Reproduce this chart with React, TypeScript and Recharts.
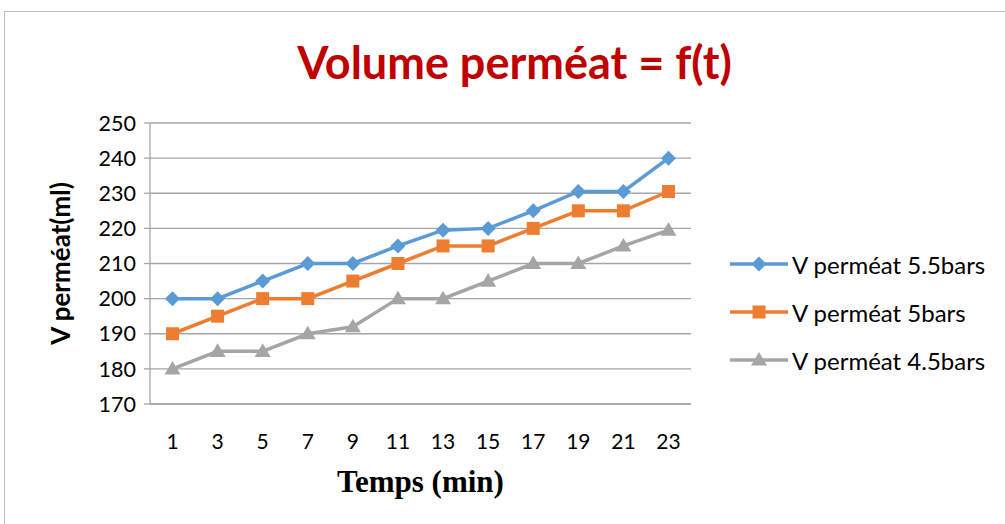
import React from "react";
import { LineChart, Line, XAxis, YAxis, CartesianGrid } from "recharts";

// Temps (min)
const times = [1, 3, 5, 7, 9, 11, 13, 15, 17, 19, 21, 23];
// V perméat (ml) at each pressure
const v55 = [200, 200, 205, 210, 210, 215, 219.5, 220, 225, 230.5, 230.5, 240];
const v5 = [190, 195, 200, 200, 205, 210, 215, 215, 220, 225, 225, 230.5];
const v45 = [180, 185, 185, 190, 192, 200, 200, 205, 210, 210, 215, 219.5];
const yTicks = [170, 180, 190, 200, 210, 220, 230, 240, 250];

const seriesNames = ["V perméat 5.5bars", "V perméat 5bars", "V perméat 4.5bars"];
const seriesColors = ["#5B9BD5", "#ED7D31", "#A5A5A5"];
const seriesShapes = ["diamond", "square", "triangle"];

const data = times.map((t, i) => ({ t, s55: v55[i], s5: v5[i], s45: v45[i] }));

const FONT = "Lato, 'Open Sans', sans-serif";

const Marker = ({ cx, cy, shape, color }: any) => {
  if (cx == null || cy == null) return null;
  if (shape === "diamond") {
    const r = 7.5;
    return <path d={`M${cx},${cy - r}L${cx + r},${cy}L${cx},${cy + r}L${cx - r},${cy}Z`} fill={color} />;
  }
  if (shape === "square") {
    const r = 6.5;
    return <rect x={cx - r} y={cy - r} width={r * 2} height={r * 2} fill={color} />;
  }
  const r = 8;
  return <path d={`M${cx},${cy - r}L${cx + r},${cy + r * 0.7}L${cx - r},${cy + r * 0.7}Z`} fill={color} />;
};

const ChartLegend = () => (
  <div
    style={{
      position: "absolute",
      left: 728,
      top: 240,
      fontFamily: FONT,
      fontSize: 24,
      color: "#000",
      whiteSpace: "nowrap",
    }}
  >
    {seriesNames.map((n, i) => (
      <div key={n} style={{ display: "flex", alignItems: "center", height: 48 }}>
        <svg width={62} height={20}>
          <line x1={2} y1={10} x2={60} y2={10} stroke={seriesColors[i]} strokeWidth={3.5} />
          <Marker cx={31} cy={10} shape={seriesShapes[i]} color={seriesColors[i]} />
        </svg>
        <span style={{ marginLeft: 2 }}>{n}</span>
      </div>
    ))}
  </div>
);

export default function App() {
  const keys = ["s55", "s5", "s45"];
  return (
    <div style={{ position: "fixed", left: 0, top: 0, width: 1005, height: 524, background: "#fff", overflow: "hidden" }}>
      <div
        style={{
          position: "absolute",
          left: 4,
          top: 11,
          width: 1010,
          height: 520,
          border: "1px solid #BFBFBF",
        }}
      />
      <div
        style={{
          position: "absolute",
          left: 0,
          width: 1005,
          top: 32,
          textAlign: "center",
          fontFamily: FONT,
          fontWeight: 700,
          fontSize: 45,
          color: "#C00000",
          lineHeight: "60px",
          paddingLeft: 24,
          boxSizing: "border-box",
        }}
      >
        Volume perméat = f(t)
      </div>
      <LineChart
        width={1005}
        height={524}
        data={data}
        margin={{ top: 123, right: 314, bottom: 40, left: 0 }}
        style={{ position: "absolute", left: 0, top: 0 }}
      >
        <CartesianGrid vertical={false} stroke="#A6A6A6" strokeWidth={1.3} />
        <XAxis
          dataKey="t"
          interval={0}
          padding={{ left: 22.5, right: 22.5 }}
          axisLine={{ stroke: "#A6A6A6", strokeWidth: 1.3 }}
          tickLine={false}
          tickMargin={24}
          height={80}
          tick={{ fill: "#000", fontSize: 21, fontFamily: FONT }}
          label={{
            value: "Temps (min)",
            position: "insideBottom",
            offset: -8,
            style: { fontFamily: "'Liberation Serif', serif", fontWeight: 700, fontSize: 31, fill: "#000" },
          }}
        />
        <YAxis
          width={150}
          domain={[170, 250]}
          ticks={yTicks}
          interval={0}
          axisLine={{ stroke: "#A6A6A6", strokeWidth: 1.3 }}
          tickLine={{ stroke: "#A6A6A6", strokeWidth: 1.3 }}
          tickSize={6}
          tickMargin={8}
          tick={{ fill: "#000", fontSize: 21.5, fontFamily: FONT }}
          label={{
            value: "V perméat(ml)",
            angle: -90,
            position: "insideLeft",
            offset: 61,
            style: { fontFamily: FONT, fontWeight: 700, fontSize: 26, fill: "#000", textAnchor: "middle" },
          }}
        />
        {keys.map((k, i) => (
          <Line
            key={k}
            dataKey={k}
            name={seriesNames[i]}
            stroke={seriesColors[i]}
            strokeWidth={3.5}
            isAnimationActive={false}
            dot={(p: any) => (
              <Marker key={`${k}-${p.index}`} cx={p.cx} cy={p.cy} shape={seriesShapes[i]} color={seriesColors[i]} />
            )}
            activeDot={false}
          />
        ))}
      </LineChart>
      <ChartLegend />
    </div>
  );
}
